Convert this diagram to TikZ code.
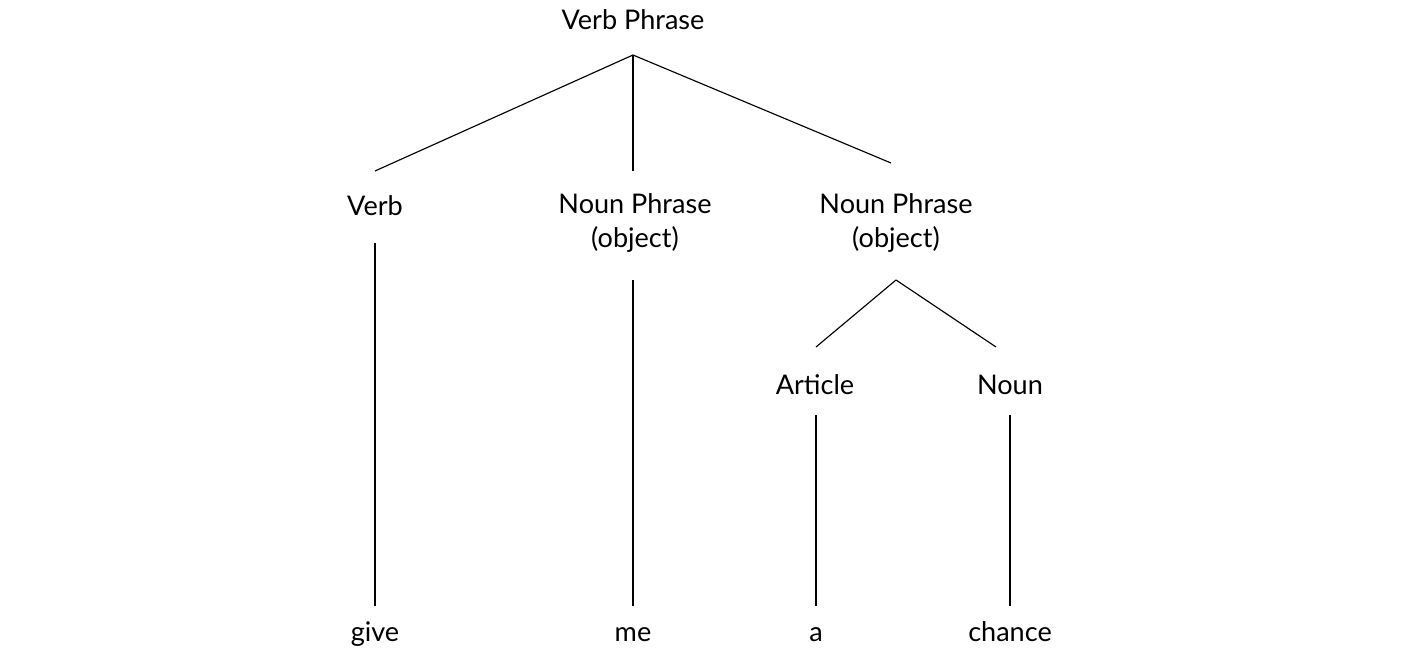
\documentclass[tikz,border=0pt]{standalone}
\usepackage{fontspec}
\setmainfont{Lato}
\begin{document}
\begin{tikzpicture}[x=0.02cm,y=-0.02cm,
  lbl/.style={inner sep=0pt,font=\fontsize{15.4}{19.3}\selectfont,align=center},
  edge/.style={draw=black,line width=0.65pt}]
\useasboundingbox (0,0) rectangle (1409,655);
% labels
\node[lbl] (vp) at (633,20) {Verb Phrase};
\node[lbl] (verb) at (375,206) {Verb};
\node[lbl] (np1) at (635,223) {Noun Phrase\\(object)};
\node[lbl] (np2) at (896,223) {Noun Phrase\\(object)};
\node[lbl] (art) at (815,385) {Article};
\node[lbl] (noun) at (1010,385) {Noun};
\node[lbl,anchor=base] (give) at (375,641) {give};
\node[lbl,anchor=base] (me) at (633,641) {me};
\node[lbl,anchor=base] (a) at (816,641) {a};
\node[lbl,anchor=base] (chance) at (1010,641) {chance};
% connector end points
\coordinate (vpA) at (633,55);
\coordinate (verbT) at (375,171);
\coordinate (np1T) at (633,171);
\coordinate (np2T) at (891,163);
\coordinate (verbB) at (375,243);
\coordinate (np1B) at (633,280);
\coordinate (np2A) at (896,280);
\coordinate (artT) at (816,347);
\coordinate (nounT) at (996,347);
\coordinate (artB) at (816,415);
\coordinate (nounB) at (1010,415);
\coordinate (giveT) at (375,606);
\coordinate (meT) at (633,606);
\coordinate (aT) at (816,606);
\coordinate (chanceT) at (1010,606);
% connectors
\draw[edge] (vpA) -- (verbT);
\draw[edge] (vpA) -- (np1T);
\draw[edge] (vpA) -- (np2T);
\draw[edge] (verbB) -- (giveT);
\draw[edge] (np1B) -- (meT);
\draw[edge] (np2A) -- (artT);
\draw[edge] (np2A) -- (nounT);
\draw[edge] (artB) -- (aT);
\draw[edge] (nounB) -- (chanceT);
\end{tikzpicture}
\end{document}
